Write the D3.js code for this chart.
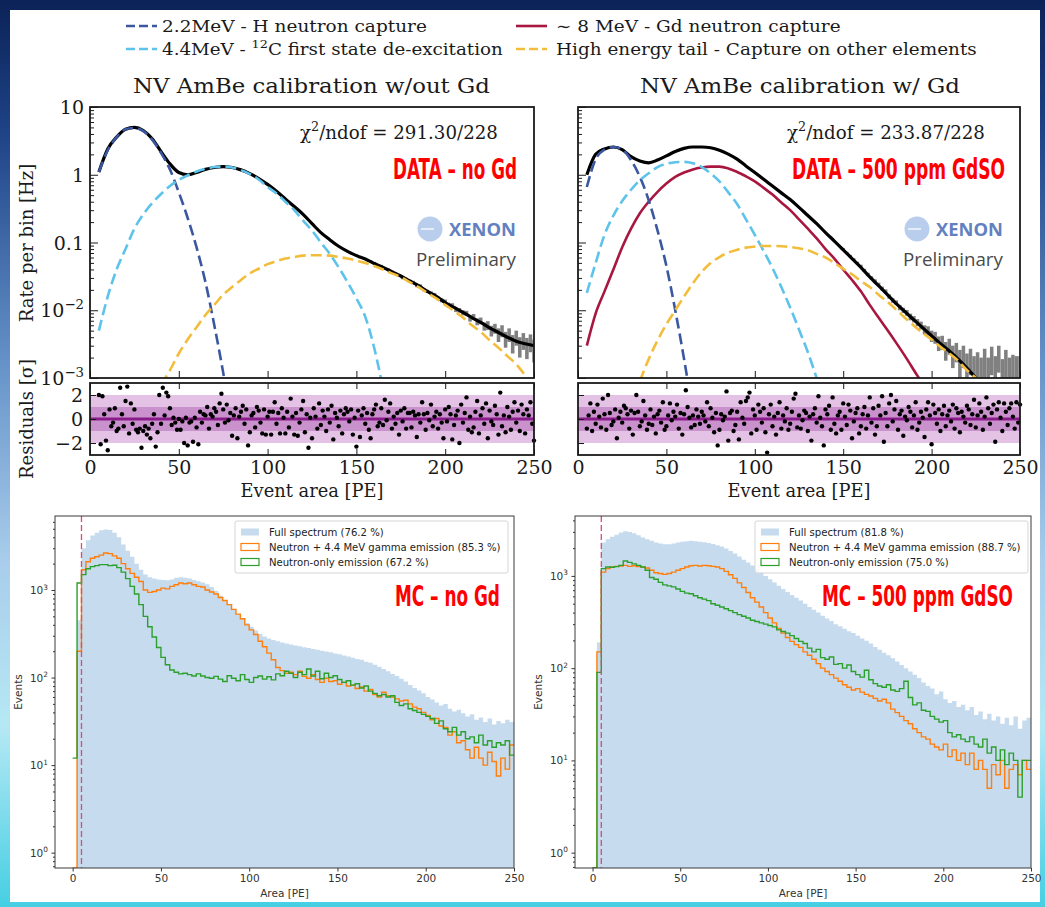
<!DOCTYPE html>
<html>
<head>
<meta charset="utf-8">
<script src="https://cdn.jsdelivr.net/npm/d3@7"></script>
<style>
  body { margin: 0; background: #fff; }
  svg { display: block; }
</style>
</head>
<body>
<svg id="slide" width="1045" height="907"></svg>
<script>
// ---------- top panels: fit components, rate per bin [Hz], 5 PE grid ----------
const fitX = d3.range(5, 251, 5);

const hCapNoGd = [1.1, 2.3, 3.6, 4.7, 4.9, 4.4, 3.3, 2.1, 1.2, 0.55, 0.23, 0.085, 0.026, 0.006, 0.0012, 0.0002];
const c12NoGd = [0.005, 0.016, 0.04, 0.08, 0.16, 0.26, 0.38, 0.52, 0.68, 0.84, 0.98, 1.12, 1.22, 1.3, 1.32, 1.28,
  1.17, 1.02, 0.85, 0.66, 0.53, 0.4, 0.3, 0.21, 0.15, 0.1, 0.068, 0.043, 0.026, 0.015, 0.008, 0.0028, 0.0007];
const tailNoGd = [null, null, null, null, null, null, null, 0.0008, 0.0013, 0.0023, 0.0037, 0.0056, 0.0085, 0.012,
  0.017, 0.022, 0.028, 0.035, 0.041, 0.048, 0.053, 0.058, 0.061, 0.064, 0.065, 0.065, 0.064, 0.061, 0.058, 0.054,
  0.05, 0.045, 0.04, 0.035, 0.031, 0.026, 0.022, 0.018, 0.015, 0.012, 0.0098, 0.0078, 0.006, 0.0048, 0.0036,
  0.0028, 0.0021, 0.0016, 0.0011, 0.0008];
const totalNoGd = [1.1, 2.4, 3.6, 4.7, 5.0, 4.5, 3.4, 2.2, 1.45, 1.08, 1.0, 1.08, 1.2, 1.28, 1.32, 1.28, 1.18, 1.04,
  0.88, 0.72, 0.57, 0.44, 0.34, 0.26, 0.19, 0.14, 0.11, 0.088, 0.074, 0.064, 0.057, 0.049, 0.043, 0.037, 0.032,
  0.027, 0.023, 0.019, 0.016, 0.013, 0.011, 0.0093, 0.0078, 0.0066, 0.0055, 0.0047, 0.004, 0.0035, 0.0032, 0.003];

const hCapGd = [0.66, 1.7, 2.35, 2.57, 2.38, 1.64, 0.93, 0.42, 0.15, 0.045, 0.01, 0.0019, 0.0003];
const c12Gd = [0.018, 0.05, 0.13, 0.25, 0.41, 0.6, 0.83, 1.05, 1.3, 1.45, 1.53, 1.55, 1.48, 1.3, 1.05, 0.8, 0.55,
  0.37, 0.22, 0.13, 0.075, 0.042, 0.022, 0.011, 0.0052, 0.0024, 0.001, 0.0004];
const gdCapGd = [0.003, 0.009, 0.019, 0.04, 0.085, 0.16, 0.27, 0.4, 0.56, 0.74, 0.93, 1.08, 1.2, 1.28, 1.32, 1.32,
  1.24, 1.1, 0.95, 0.8, 0.64, 0.51, 0.39, 0.3, 0.22, 0.16, 0.115, 0.08, 0.058, 0.04, 0.028, 0.019, 0.012, 0.0078,
  0.0051, 0.0033, 0.0021, 0.0013, 0.0008, 0.0004];
const tailGd = [null, null, null, null, null, null, 0.0009, 0.0019, 0.0036, 0.0062, 0.01, 0.016, 0.025, 0.037, 0.05,
  0.061, 0.071, 0.078, 0.084, 0.087, 0.089, 0.089, 0.088, 0.086, 0.082, 0.077, 0.068, 0.06, 0.05, 0.041, 0.034,
  0.027, 0.022, 0.017, 0.0133, 0.0102, 0.0077, 0.0059, 0.0046, 0.0037, 0.0029, 0.0023, 0.0018, 0.0013, 0.001, 0.0007];
const totalGd = [1.0, 2.0, 2.4, 2.57, 2.35, 1.85, 1.6, 1.5, 1.65, 1.9, 2.2, 2.45, 2.57, 2.57, 2.5, 2.3, 2.02, 1.7,
  1.35, 1.08, 0.86, 0.68, 0.54, 0.43, 0.33, 0.25, 0.19, 0.14, 0.105, 0.078, 0.058, 0.043, 0.031, 0.023, 0.017,
  0.0125, 0.0095, 0.0072, 0.0055, 0.0042, 0.0032, 0.0025, 0.0019, 0.0014, 0.001, 0.0007];

// measured rate in the tail (2 PE bins) and its error
const dataX = d3.range(150, 251, 2);
const rateNoGd = [0.065, 0.060, 0.059, 0.055, 0.053, 0.050, 0.046, 0.045, 0.041, 0.040, 0.036, 0.035, 0.033, 0.030,
  0.029, 0.027, 0.026, 0.023, 0.023, 0.020, 0.019, 0.018, 0.017, 0.015, 0.014, 0.0135, 0.012, 0.0118, 0.0102,
  0.0100, 0.0092, 0.0090, 0.0076, 0.0080, 0.0068, 0.0070, 0.0058, 0.0060, 0.0050, 0.0054, 0.0044, 0.0050, 0.0038,
  0.0044, 0.0033, 0.0040, 0.0030, 0.0036, 0.0029, 0.0034, 0.0027];
const rateErrNoGd = [0.0020, 0.0019, 0.0019, 0.0018, 0.0018, 0.0017, 0.0016, 0.0016, 0.0015, 0.0015, 0.0014, 0.0014,
  0.0013, 0.0013, 0.0012, 0.0012, 0.0012, 0.0011, 0.0011, 0.0010, 0.0010, 0.0010, 0.0010, 0.0009, 0.0009, 0.0009,
  0.0009, 0.0009, 0.0008, 0.0008, 0.0008, 0.0008, 0.0008, 0.0008, 0.0008, 0.0008, 0.0008, 0.0009, 0.0009, 0.0009,
  0.0010, 0.0010, 0.0010, 0.0010, 0.0010, 0.0010, 0.0010, 0.0010, 0.0010, 0.0010, 0.0010];
const rateGd = [0.080, 0.070, 0.063, 0.056, 0.050, 0.045, 0.039, 0.034, 0.030, 0.027, 0.024, 0.021, 0.019, 0.016,
  0.014, 0.013, 0.011, 0.010, 0.0092, 0.0080, 0.0074, 0.0066, 0.0060, 0.0052, 0.0050, 0.0042, 0.0040, 0.0033,
  0.0034, 0.0026, 0.0030, 0.0022, 0.0025, 0.0018, 0.0022, 0.0015, 0.0019, 0.0013, 0.0016, 0.0012, 0.0018, 0.0011,
  0.0020, 0.0012, 0.0021, 0.0010, 0.0017, 0.0011, 0.0013, 0.0012, 0.0012];
const rateErrGd = [0.0030, 0.0028, 0.0026, 0.0024, 0.0022, 0.0020, 0.0019, 0.0018, 0.0017, 0.0016, 0.0015, 0.0014,
  0.0013, 0.0012, 0.0011, 0.0010, 0.0010, 0.0009, 0.0009, 0.0009, 0.0008, 0.0008, 0.0008, 0.0008, 0.0008, 0.0008,
  0.0008, 0.0008, 0.0008, 0.0008, 0.0008, 0.0008, 0.0008, 0.0008, 0.0008, 0.0008, 0.0008, 0.0008, 0.0008, 0.0008,
  0.0009, 0.0009, 0.0009, 0.0009, 0.0009, 0.0009, 0.0009, 0.0009, 0.0009, 0.0009, 0.0009];

// residuals [sigma], one per PE from 5 to 250
const residX = d3.range(5, 251);
const residNoGd = [2.0, -2.1, 1.9, 0.4, -1.8, -2.6, 0.8, -0.6, -0.3, 0.9, -1.0, -0.8, 2.6, 0.4, -0.6, 1.5, 2.7, -1.2, 1.3, -0.4,
  0.8, -0.9, -1.1, -0.8, -2.4, -1.0, -0.6, -1.3, -0.8, -1.6, -0.4, 0.4, -2.3, -1.1, 2.0, -0.4, 2.6, 0.3, 2.2, 1.9,
  0.9, -0.5, 0.1, -0.3, -0.9, 0.0, -0.9, -0.2, -2.0, 0.1, -2.2, -0.3, -0.2, -1.9, 0.1, -0.7, -2.1, 0.6, -0.3, 0.4,
  0.3, 1.0, -0.8, 0.4, 0.2, 0.9, 0.6, -0.5, 1.3, 2.1, 0.8, -0.3, 1.2, -0.1, 0.5, -1.4, 0.3, 0.9, -1.6, 0.2,
  0.6, 1.1, -0.4, 0.8, -2.2, -1.1, 0.3, 0.5, -0.7, 1.0, 0.7, -0.3, -1.2, 0.8, -1.3, 0.2, 0.6, -1.3, 0.6, 1.4,
  -0.4, 0.5, -1.2, 0.9, 0.1, -1.2, 0.6, -0.7, 1.7, 0.2, -1.3, 0.5, -1.4, -0.3, 0.8, 1.5, -1.1, 0.4, -2.4, 0.1,
  -1.6, 0.9, 0.2, -0.8, 1.3, -0.5, 0.7, 0.2, -1.0, 0.8, -0.3, 1.1, -1.7, 0.5, 0.1, -0.6, 0.7, -1.2, 0.4, 0.9,
  0.6, -0.2, 0.8, -1.3, 0.1, -2.3, 0.7, -1.5, 0.3, 0.9, -0.4, 0.5, -0.9, -1.6, 0.4, 0.8, 1.2, -0.6, -0.3, 0.9,
  -0.5, 1.6, -0.1, 0.6, 1.3, -0.8, 0.2, -0.4, 0.5, -1.3, 0.7, -0.2, 0.9, -0.8, 0.5, 0.5, -0.7, 0.6, 0.3, -1.5,
  0.4, -0.3, 1.4, 0.4, -0.9, 0.5, -0.1, 1.2, -0.6, 0.2, 0.6, -0.8, 0.4, -0.3, -1.6, 0.8, -0.2, 1.0, 0.4, -1.7,
  -0.5, 0.3, 0.7, -2.0, 1.2, -0.3, 0.5, 1.8, -0.9, 0.2, -1.1, -0.7, 0.6, 1.5, -1.2, 0.3, 0.9, -0.4, 1.3, -1.6,
  0.7, -0.2, -0.5, 1.1, 0.4, -1.3, 2.2, -0.6, 0.3, -1.1, 1.0, 0.2, -0.9, 0.6, 1.4, -0.3, 0.7, -1.0, 1.2, 0.4,
  -1.2, 0.8, 0.3, 1.4, -0.4, -1.8];
const residGd = [-0.8, 0.3, 1.3, -1.0, 0.6, -0.4, 1.2, 0.2, -0.7, 1.7, 0.4, -0.9, 2.0, 0.5, -0.5, -0.2, 0.8, -1.6, 0.1, 0.6,
  -0.3, 1.1, 0.9, 0.4, -0.8, 0.7, -1.3, 0.5, 2.0, 0.6, -0.6, -0.2, 1.5, 0.3, -0.9, -0.4, 0.8, -0.5, 0.2, -1.2,
  0.4, 0.7, -0.3, 1.4, -0.9, -0.6, 0.3, 1.3, -0.1, 0.6, 0.2, 1.2, -0.8, 0.5, -1.3, 0.4, 2.4, 1.0, 0.1, -0.7,
  0.3, -0.5, 0.8, 0.2, -0.4, 0.6, 0.3, -0.2, 1.4, -0.6, 0.9, 0.1, -1.1, 0.5, -2.2, -0.9, 0.4, -0.1, 0.2, 2.3,
  -1.8, 0.5, 0.7, -1.0, -0.5, 0.6, -1.7, 1.4, 0.1, -0.4, 1.5, 1.8, 2.2, -1.2, 0.8, 0.3, -0.9, 1.2, 0.6, -0.3,
  0.9, -1.1, -2.8, 0.4, 1.2, -0.6, 0.2, -1.3, 0.5, 1.4, -0.8, 0.3, -0.2, 0.9, -0.9, -0.4, 0.6, 1.7, 2.1, -0.7,
  0.3, -0.8, -0.1, 0.7, 0.5, -1.0, 0.2, -1.8, 0.4, 0.9, -0.3, 1.9, 0.1, -0.6, -2.2, 0.8, 0.4, 1.1, -0.9, 1.8,
  -0.4, -1.2, 0.3, 0.6, -0.9, 1.3, 0.2, -0.5, 1.2, 0.7, -1.6, -0.2, 0.5, 0.9, -1.2, -0.6, 0.4, 1.0, -0.8, 0.3,
  1.8, -0.3, 0.9, -1.3, -0.6, 1.1, 0.3, 1.9, -1.9, 0.5, -0.6, 1.3, 2.0, -0.2, 0.8, 1.5, -0.9, 0.4, 0.7, -1.4,
  0.2, -0.1, 1.0, 0.6, -0.7, 0.3, 1.4, -0.9, -0.3, 0.6, 0.1, -1.5, 0.8, 1.4, 0.3, -2.1, 1.2, 0.5, -0.4, 0.8,
  -1.0, 0.4, 1.1, -0.6, 0.3, 0.7, -0.2, 1.2, -0.8, 0.9, 0.5, -1.1, 0.6, 0.2, -0.3, 1.1, 0.8, -0.5, 0.4, 1.6,
  -0.7, 0.3, 1.3, 0.6, -0.9, 0.2, 1.8, 0.9, -0.4, 0.5, 1.2, -1.9, 0.8, 1.4, 0.1, -1.0, 1.3, 0.6, -0.5, 0.9,
  1.3, 0.2, -0.8, 1.4, -0.3, 1.2];

// ---------- bottom panels: MC histograms, 2.5 PE bins from 0 to 250 ----------
const histEdges = d3.range(0, 250, 2.5);
const mcFullNoGd = [0, 450, 3000, 3700, 4200, 4500, 4800, 4900, 4850, 4500,
  4000, 3300, 2800, 2400, 2000, 1700, 1500, 1400, 1350, 1320,
  1300, 1290, 1320, 1380, 1400, 1380, 1350, 1300, 1260, 1220,
  1160, 1080, 980, 860, 760, 680, 600, 530, 470, 420,
  380, 345, 315, 295, 280, 268, 260, 252, 245, 238,
  232, 228, 222, 218, 212, 208, 203, 198, 194, 188,
  184, 178, 174, 168, 163, 160, 152, 148, 140, 133,
  125, 118, 110, 104, 97, 90, 82, 76, 71, 66,
  60, 56, 52, 48, 50, 44, 41, 43, 39, 36,
  38, 33, 35, 31, 34, 29, 32, 30, 33, 31];
const mcNgNoGd = [0, 200, 1700, 2100, 2300, 2400, 2500, 2650, 2600, 2450,
  2300, 2000, 1750, 1550, 1400, 1250, 1000, 940, 960, 1000,
  1050, 1030, 1100, 1150, 1200, 1180, 1200, 1150, 1100, 1080,
  1000, 950, 900, 820, 760, 680, 600, 530, 470, 400,
  350, 310, 260, 225, 190, 160, 130, 120, 112, 115,
  108, 118, 103, 98, 108, 95, 88, 98, 90, 92,
  84, 88, 80, 82, 75, 78, 70, 73, 64, 60,
  68, 62, 60, 57, 54, 55, 50, 46, 44, 40,
  37, 33, 34, 28, 27, 22, 24, 18, 19, 15,
  12, 16, 12, 10, 14, 11, 7.5, 12, 9, 17];
const mcNNoGd = [12, 1200, 1500, 1750, 1850, 1900, 1950, 1950, 1900, 1920,
  1800, 1600, 1350, 1100, 900, 680, 500, 380, 290, 220,
  170, 140, 122, 115, 110, 112, 108, 104, 110, 104,
  100, 98, 103, 96, 90, 105, 98, 92, 108, 95,
  88, 100, 104, 96, 102, 94, 110, 105, 118, 112,
  100, 115, 108, 125, 104, 118, 97, 112, 100, 105,
  95, 88, 92, 82, 85, 76, 80, 70, 66, 62,
  64, 60, 62, 52, 48, 50, 44, 42, 40, 38,
  36, 34, 30, 32, 26, 24, 27, 22, 24, 20,
  21, 18, 22, 17, 19, 16, 18, 17, 19, 13];
const mcFullGd = [0, 190, 2300, 2500, 2650, 2800, 2950, 3050, 3000, 2900,
  2750, 2600, 2500, 2400, 2300, 2250, 2200, 2200, 2250, 2300,
  2350, 2380, 2400, 2380, 2350, 2320, 2280, 2220, 2150, 2080,
  1980, 1860, 1750, 1620, 1500, 1400, 1300, 1200, 1100, 1000,
  920, 850, 780, 720, 670, 620, 580, 540, 500, 460,
  430, 400, 370, 345, 325, 300, 285, 268, 252, 240,
  225, 210, 198, 185, 170, 158, 147, 138, 128, 118,
  108, 100, 92, 85, 78, 70, 64, 60, 52, 56,
  46, 42, 44, 38, 40, 35, 38, 31, 34, 28,
  32, 27, 30, 25, 29, 24, 30, 22, 27, 29];
const mcNgGd = [0, 150, 1100, 1200, 1250, 1270, 1280, 1300, 1270, 1290,
  1260, 1250, 1220, 1150, 1080, 1060, 1040, 1060, 1100, 1150,
  1200, 1250, 1290, 1300, 1280, 1300, 1290, 1270, 1250, 1200,
  1120, 1030, 940, 840, 750, 660, 580, 520, 460, 400,
  350, 310, 270, 240, 215, 195, 180, 168, 150, 138,
  125, 112, 100, 92, 85, 78, 72, 66, 62, 58,
  60, 55, 52, 50, 47, 44, 46, 42, 36, 33,
  30, 27, 25, 22, 20, 18, 17, 15, 14, 13,
  15, 11, 13, 10, 12, 9, 12, 8, 10, 8,
  5, 9, 7, 10, 5, 8, 9, 7, 10, 8];
const mcNGd = [0, 90, 1200, 1250, 1240, 1260, 1300, 1450, 1400, 1350,
  1300, 1250, 1150, 960, 920, 850, 800, 780, 760, 720,
  680, 650, 640, 610, 580, 560, 540, 500, 480, 460,
  440, 420, 400, 380, 365, 350, 330, 320, 310, 300,
  290, 280, 260, 250, 240, 225, 210, 195, 185, 165,
  150, 160, 130, 125, 132, 110, 112, 100, 108, 92,
  85, 80, 95, 75, 68, 64, 62, 66, 58, 56,
  60, 72, 48, 40, 42, 35, 34, 30, 28, 26,
  27, 20, 18, 19, 17, 16, 18, 15, 14, 17,
  12, 14, 10, 13, 9, 12, 10, 4, 10, 10];

// tick values and labels
const xTicks = [0, 50, 100, 150, 200, 250];
const rateTicks = [10, 1, 0.1, 0.01, 0.001];
const rateTickLabels = [['10'], ['1'], ['0.1'], ['10', { sup: '−2' }], ['10', { sup: '−3' }]];
const residTicks = [2, 0, -2];
const eventTicks = [1, 10, 100, 1000];
const eventTickLabels = ['0', '1', '2', '3'];
const legendTop = [
  ['2.2MeV - H neutron capture'],
  ['4.4MeV - ', { sup: '12' }, 'C first state de-excitation'],
  ['∼ 8 MeV - Gd neutron capture'],
  ['High energy tail - Capture on other elements']];
const mcLegendNoGd = ['Full spectrum (76.2 %)', 'Neutron + 4.4 MeV gamma emission (85.3 %)', 'Neutron-only emission (67.2 %)'];
const mcLegendGd = ['Full spectrum (81.8 %)', 'Neutron + 4.4 MeV gamma emission (88.7 %)', 'Neutron-only emission (75.0 %)'];

const serif = 'DejaVu Serif, serif';
const sans = 'DejaVu Sans, sans-serif';
const colH = '#3a57a0', colC = '#5ec3ea', colGd = '#a8173f', colTail = '#f3bd3c';
const colFull = '#c6dbee', colNg = '#ff7f0e', colN = '#2ca02c';

const svg = d3.select('#slide');
const defs = svg.append('defs');

// slide background
const bg = defs.append('linearGradient').attr('id', 'bg').attr('x1', 0).attr('y1', 0).attr('x2', 0).attr('y2', 1);
[[0, '#0b2257'], [0.15, '#1f4488'], [0.4, '#6592c8'], [0.62, '#a9cdeb'], [0.8, '#b6e8f4'], [1, '#45cfe3']]
  .forEach(s => bg.append('stop').attr('offset', s[0]).attr('stop-color', s[1]));
svg.append('rect').attr('width', 1045).attr('height', 907).attr('fill', 'url(#bg)');
svg.append('rect').attr('x', 10).attr('y', 10).attr('width', 1030).attr('height', 892).attr('fill', '#fff');

// text helper: parts are strings or {sup}, optional width fits the text horizontally
function label(parent, parts, x, y, o) {
  const t = parent.append('text')
    .attr('font-family', o.family || serif)
    .attr('font-size', o.size)
    .attr('font-weight', o.weight || 'normal')
    .attr('fill', o.fill || '#1a1a1a')
    .attr('text-anchor', o.anchor || 'start');
  (Array.isArray(parts) ? parts : [parts]).forEach((p, i, arr) => {
    if (typeof p === 'string') {
      const afterSup = i > 0 && typeof arr[i - 1] !== 'string';
      t.append('tspan').attr('dy', afterSup ? '0.42em' : null).text(p);
    } else {
      t.append('tspan').attr('font-size', '70%').attr('dy', '-0.6em').text(p.sup);
    }
  });
  let sx = 1;
  if (o.width) sx = o.width / t.node().getComputedTextLength();
  t.attr('transform', `translate(${x},${y}) rotate(${o.rotate || 0}) scale(${sx},1)`);
  return t;
}

// ---------- top legend and titles ----------
const lg = svg.append('g');
[[126, 26, colH, '9,4'], [126, 49, colC, '9,4'], [516, 26, colGd, null], [516, 49, colTail, '9,4']].forEach(d => {
  lg.append('line').attr('x1', d[0]).attr('x2', d[0] + 31).attr('y1', d[1]).attr('y2', d[1])
    .attr('stroke', d[2]).attr('stroke-width', 2.6).attr('stroke-dasharray', d[3]);
});
label(lg, legendTop[0], 162, 32, { size: 16, width: 265 });
label(lg, legendTop[1], 162, 55, { size: 16, width: 341 });
label(lg, legendTop[2], 556, 32, { size: 16, width: 285 });
label(lg, legendTop[3], 556, 55, { size: 16, width: 421 });

label(svg, 'NV AmBe calibration w/out Gd', 311.5, 93, { size: 21, anchor: 'middle', width: 357 });
label(svg, 'NV AmBe calibration w/ Gd', 800, 93, { size: 21, anchor: 'middle', width: 320 });

function drawFitPanel(p) {
  const g = svg.append('g');
  const x = d3.scaleLinear().domain([0, 250]).range([p.left, p.right]);
  const y = d3.scaleLog().domain([1e-3, 10]).range([378, 107]);
  const yc = y.copy().clamp(true);
  const yr = d3.scaleLinear().domain([-3, 3]).range([455, 383]);
  const w = p.right - p.left;

  defs.append('clipPath').attr('id', 'clip' + p.id).append('rect')
    .attr('x', p.left).attr('y', 107).attr('width', w).attr('height', 271);
  const plot = g.append('g').attr('clip-path', `url(#clip${p.id})`);

  const bars = dataX.map((d, i) => ({ x: d, v: p.rate[i], e: p.err[i] }));
  plot.selectAll('rect.data').data(bars).enter().append('rect')
    .attr('x', d => x(d.x - 1))
    .attr('width', d => x(d.x + 1) - x(d.x - 1))
    .attr('y', d => yc(d.v + d.e))
    .attr('height', d => yc(Math.max(d.v - d.e, 1e-6)) - yc(d.v + d.e))
    .attr('fill', '#808080');

  const line = d3.line()
    .defined(d => d[1] != null)
    .x(d => x(d[0]))
    .y(d => y(d[1]))
    .curve(d3.curveMonotoneX);
  const pts = arr => fitX.map((xv, i) => [xv, arr[i] == null ? null : arr[i]]);

  plot.append('path').attr('d', line(pts(p.total)))
    .attr('fill', 'none').attr('stroke', '#000').attr('stroke-width', 3.2);
  p.parts.forEach(c => {
    plot.append('path').attr('d', line(pts(c.values)))
      .attr('fill', 'none').attr('stroke', c.color).attr('stroke-width', 2.6)
      .attr('stroke-dasharray', c.dash ? '11,5' : null);
  });

  // ticks, inward
  g.append('g').attr('transform', 'translate(0,378)').attr('color', '#1a1a1a')
    .call(d3.axisBottom(x).tickValues(xTicks).tickSize(-7).tickFormat(''))
    .call(s => s.select('.domain').remove());
  g.append('g').attr('transform', `translate(${p.left},0)`).attr('color', '#1a1a1a')
    .call(d3.axisLeft(y).tickValues(rateTicks).tickSize(-8).tickFormat(''))
    .call(s => s.select('.domain').remove());
  const minors = [];
  [1e-3, 1e-2, 0.1, 1].forEach(dec => d3.range(2, 10).forEach(m => minors.push(dec * m)));
  g.append('g').attr('transform', `translate(${p.left},0)`).attr('color', '#1a1a1a')
    .call(d3.axisLeft(y).tickValues(minors).tickSize(-4).tickFormat(''))
    .call(s => s.select('.domain').remove());
  if (p.showY) {
    rateTicks.forEach((v, i) => label(g, rateTickLabels[i], p.left - 6, y(v) + 7, { size: 19, anchor: 'end' }));
  }

  // residuals
  g.append('rect').attr('x', p.left).attr('width', w).attr('y', yr(2)).attr('height', yr(-2) - yr(2)).attr('fill', '#e3c2e5');
  g.append('rect').attr('x', p.left).attr('width', w).attr('y', yr(1)).attr('height', yr(-1) - yr(1)).attr('fill', '#c992cd');
  g.append('line').attr('x1', p.left).attr('x2', p.right).attr('y1', yr(0)).attr('y2', yr(0))
    .attr('stroke', '#8a1b8a').attr('stroke-width', 3);
  g.selectAll('circle.res').data(p.resid).enter().append('circle')
    .attr('cx', (d, i) => x(residX[i]))
    .attr('cy', d => yr(d))
    .attr('r', 2.2)
    .attr('fill', '#000');

  g.append('g').attr('transform', 'translate(0,455)').attr('color', '#1a1a1a')
    .call(d3.axisBottom(x).tickValues(xTicks).tickSize(-6).tickPadding(6))
    .call(s => s.select('.domain').remove())
    .call(s => s.selectAll('text').attr('font-family', serif).attr('font-size', 19).attr('fill', '#1a1a1a'));
  g.append('g').attr('transform', 'translate(0,383)').attr('color', '#1a1a1a')
    .call(d3.axisTop(x).tickValues(xTicks).tickSize(-6).tickFormat(''))
    .call(s => s.select('.domain').remove());
  g.append('g').attr('transform', `translate(${p.left},0)`).attr('color', '#1a1a1a')
    .call(d3.axisLeft(yr).tickValues(residTicks).tickSize(-6).tickPadding(7).tickFormat(p.showY ? d3.format('d') : ''))
    .call(s => s.select('.domain').remove())
    .call(s => s.selectAll('text').attr('font-family', serif).attr('font-size', 19).attr('fill', '#1a1a1a'));

  // frames
  g.append('rect').attr('x', p.left).attr('y', 107).attr('width', w).attr('height', 271)
    .attr('fill', 'none').attr('stroke', '#1a1a1a').attr('stroke-width', 1.8);
  g.append('rect').attr('x', p.left).attr('y', 383).attr('width', w).attr('height', 72)
    .attr('fill', 'none').attr('stroke', '#1a1a1a').attr('stroke-width', 1.8);

  label(g, 'Event area [PE]', (p.left + p.right) / 2, 497, { size: 19, anchor: 'middle', width: 143 });
  label(g, ['χ', { sup: '2' }, p.chi], p.chiX, 139, { size: 19, width: 198 });
  label(g, p.tag, p.tagX, 179, { size: 29, weight: 'bold', fill: '#ff0000', family: 'Liberation Sans Narrow, DejaVu Sans, sans-serif', width: p.tagW });

  // XENON preliminary mark
  g.append('circle').attr('cx', p.logoX).attr('cy', 229).attr('r', 12.5).attr('fill', '#b9cdec');
  g.append('line').attr('x1', p.logoX - 9).attr('x2', p.logoX + 4).attr('y1', 229).attr('y2', 229)
    .attr('stroke', '#e4ecf8').attr('stroke-width', 2);
  label(g, 'XENON', p.logoX + 19, 236, { size: 17, weight: 'bold', fill: '#6381c0', family: 'Open Sans, DejaVu Sans, sans-serif', width: 67 });
  label(g, 'Preliminary', p.logoX - 14, 266, { size: 19, fill: '#4a4a4a', family: 'Open Sans, DejaVu Sans, sans-serif', width: 100 });
}

drawFitPanel({
  id: 'a', left: 90, right: 534, showY: true,
  total: totalNoGd, rate: rateNoGd, err: rateErrNoGd, resid: residNoGd,
  parts: [
    { values: hCapNoGd, color: colH, dash: true },
    { values: c12NoGd, color: colC, dash: true },
    { values: tailNoGd, color: colTail, dash: true }],
  chi: '/ndof = 291.30/228', chiX: 300,
  tag: 'DATA – no Gd', tagX: 393, tagW: 124, logoX: 430
});
drawFitPanel({
  id: 'b', left: 578, right: 1020, showY: false,
  total: totalGd, rate: rateGd, err: rateErrGd, resid: residGd,
  parts: [
    { values: gdCapGd, color: colGd, dash: false },
    { values: hCapGd, color: colH, dash: true },
    { values: c12Gd, color: colC, dash: true },
    { values: tailGd, color: colTail, dash: true }],
  chi: '/ndof = 233.87/228', chiX: 787,
  tag: 'DATA – 500 ppm GdSO', tagX: 792, tagW: 213, logoX: 917
});

label(svg, 'Rate per bin [Hz]', 33, 243, { size: 18, anchor: 'middle', rotate: -90 });
label(svg, 'Residuals [σ]', 33, 419, { size: 18, anchor: 'middle', rotate: -90 });

// ---------- bottom MC panels ----------
function drawMcPanel(p) {
  const g = svg.append('g');
  const x = d3.scaleLinear().domain([-10, 250]).range([p.left, p.right]);
  const y = d3.scaleLog().domain([p.ymin, p.ymax]).range([868, 516]).clamp(true);
  const w = p.right - p.left;
  defs.append('clipPath').attr('id', 'clip' + p.id).append('rect')
    .attr('x', p.left).attr('y', 516).attr('width', w).attr('height', 352);
  const plot = g.append('g').attr('clip-path', `url(#clip${p.id})`);

  const pts = vals => histEdges.map((e, i) => [e, vals[i]]).concat([[250, vals[vals.length - 1]]]);
  const yv = v => (v > 0 ? y(v) : 868);
  plot.append('path')
    .attr('d', d3.area().x(d => x(d[0])).y0(868).y1(d => yv(d[1])).curve(d3.curveStepAfter)(pts(p.full)))
    .attr('fill', colFull);
  const step = d3.line().x(d => x(d[0])).y(d => yv(d[1])).curve(d3.curveStepAfter);
  plot.append('path').attr('d', step(pts(p.ng))).attr('fill', 'none').attr('stroke', colNg).attr('stroke-width', 1.4);
  plot.append('path').attr('d', step(pts(p.n))).attr('fill', 'none').attr('stroke', colN).attr('stroke-width', 1.4);
  plot.append('line').attr('x1', x(5)).attr('x2', x(5)).attr('y1', 516).attr('y2', 868)
    .attr('stroke', '#e8456f').attr('stroke-width', 1.3).attr('stroke-dasharray', '6,3');

  g.append('g').attr('transform', 'translate(0,868)').attr('color', '#333')
    .call(d3.axisBottom(x).tickValues(xTicks).tickSize(3.5).tickPadding(3))
    .call(s => s.select('.domain').remove())
    .call(s => s.selectAll('text').attr('font-family', sans).attr('font-size', 10.5).attr('fill', '#333'));
  g.append('g').attr('transform', `translate(${p.left},0)`).attr('color', '#333')
    .call(d3.axisLeft(y).tickValues(eventTicks).tickSize(3.5).tickFormat(''))
    .call(s => s.select('.domain').remove());
  const minors = [];
  [0.1, 1, 10, 100, 1000].forEach(dec => d3.range(2, 10).forEach(m => {
    const v = dec * m;
    if (v > p.ymin && v < p.ymax) minors.push(v);
  }));
  g.append('g').attr('transform', `translate(${p.left},0)`).attr('color', '#333')
    .call(d3.axisLeft(y).tickValues(minors).tickSize(2).tickFormat(''))
    .call(s => s.select('.domain').remove());
  eventTicks.forEach((v, i) => label(g, ['10', { sup: eventTickLabels[i] }], p.left - 7, y(v) + 4,
    { size: 10.5, anchor: 'end', family: sans, fill: '#333' }));

  g.append('rect').attr('x', p.left).attr('y', 516).attr('width', w).attr('height', 352)
    .attr('fill', 'none').attr('stroke', '#3a3a3a').attr('stroke-width', 1);

  label(g, 'Area [PE]', (p.left + p.right) / 2, 897, { size: 10.5, anchor: 'middle', family: sans, fill: '#333' });
  label(g, 'Events', p.left - 33, 692, { size: 10.5, anchor: 'middle', family: sans, fill: '#333', rotate: -90 });

  // legend
  const lx = p.legX;
  g.append('rect').attr('x', lx).attr('y', 521).attr('width', 273).attr('height', 52).attr('rx', 2)
    .attr('fill', '#fff').attr('fill-opacity', 0.85).attr('stroke', '#d5d5d5');
  [0, 1, 2].forEach(i => {
    const cy = 532 + i * 15;
    const patch = g.append('rect').attr('x', lx + 6).attr('y', cy - 3.5).attr('width', 18).attr('height', 7);
    if (i === 0) patch.attr('fill', colFull);
    else patch.attr('fill', 'none').attr('stroke', i === 1 ? colNg : colN).attr('stroke-width', 1.2);
    label(g, p.legend[i], lx + 34, cy + 4, { size: 10, family: sans, fill: '#222', width: [115, 232, 160][i] });
  });

  label(g, p.tag, p.tagX, 606, { size: 29, weight: 'bold', fill: '#ff0000', family: 'Liberation Sans Narrow, DejaVu Sans, sans-serif', width: p.tagW });
}

drawMcPanel({
  id: 'c', left: 55, right: 514, ymin: 0.668, ymax: 7000,
  full: mcFullNoGd, ng: mcNgNoGd, n: mcNNoGd, legend: mcLegendNoGd, legX: 235,
  tag: 'MC – no Gd', tagX: 395, tagW: 105
});
drawMcPanel({
  id: 'd', left: 575, right: 1031, ymin: 0.682, ymax: 4460,
  full: mcFullGd, ng: mcNgGd, n: mcNGd, legend: mcLegendGd, legX: 755,
  tag: 'MC – 500 ppm GdSO', tagX: 822, tagW: 191
});
</script>
</body>
</html>
